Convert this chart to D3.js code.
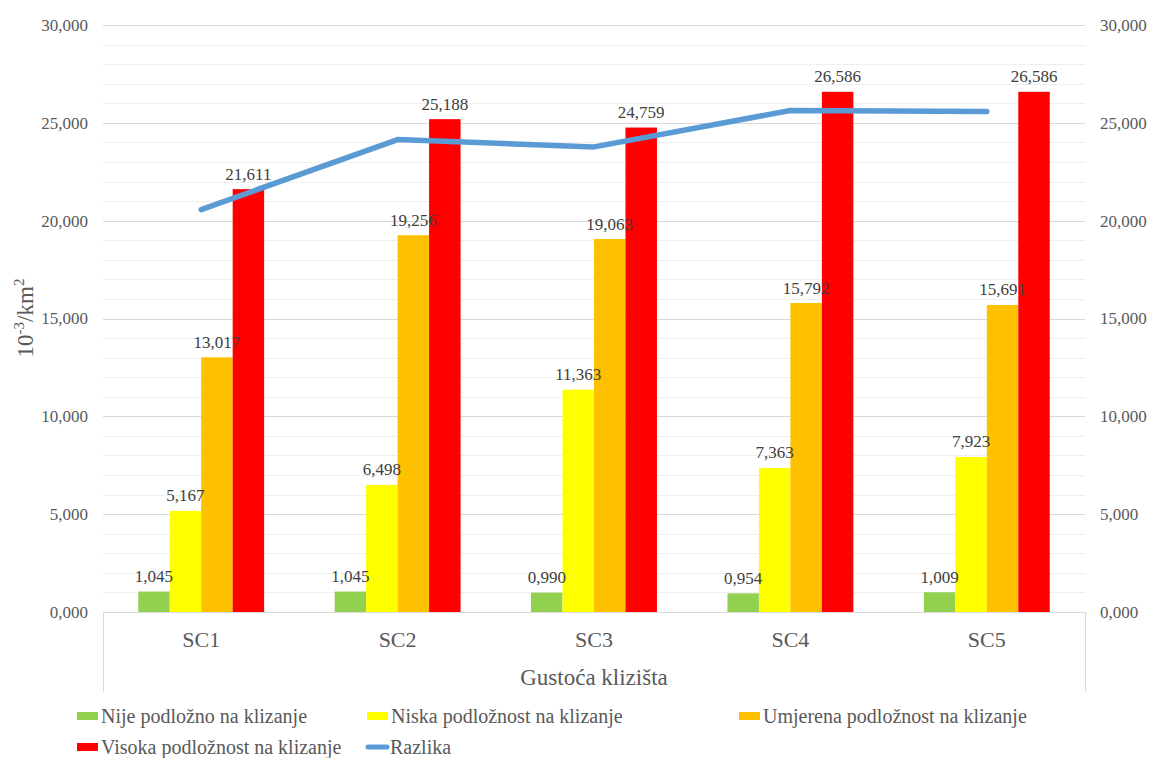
<!DOCTYPE html>
<html>
<head>
<meta charset="utf-8">
<script src="https://cdn.jsdelivr.net/npm/d3@7"></script>
<style>
  body { margin: 0; background: #fff; }
  svg { font-family: "Liberation Serif", "Times New Roman", serif; }
</style>
</head>
<body>
<svg id="chart" width="1151" height="758"></svg>
<script>
// data (values in 10^-3/km2)
var categories = ["SC1", "SC2", "SC3", "SC4", "SC5"];
var seriesNames = ["Nije podložno na klizanje", "Niska podložnost na klizanje", "Umjerena podložnost na klizanje", "Visoka podložnost na klizanje"];
var nije = [1.045, 1.045, 0.990, 0.954, 1.009];
var niska = [5.167, 6.498, 11.363, 7.363, 7.923];
var umjerena = [13.017, 19.256, 19.063, 15.792, 15.691];
var visoka = [21.611, 25.188, 24.759, 26.586, 26.586];
var razlika = [20.566, 24.143, 23.769, 25.632, 25.577];
var yTicks = [0, 5, 10, 15, 20, 25, 30];
var lineName = "Razlika";

var colors = ["#92D050", "#FFFF00", "#FFC000", "#FF0000"];
var lineColor = "#5B9BD5";
var seriesValues = [nije, niska, umjerena, visoka];

var svg = d3.select("#chart");
var width = 1151, height = 758;
var margin = { top: 25, right: 66, bottom: 146, left: 103 };
var plotBottom = height - margin.bottom;

var fmt = function (v) { return d3.format(".3f")(v).replace(".", ","); };

var x = d3.scaleBand()
    .domain(categories)
    .range([margin.left, width - margin.right]);
var xs = d3.scaleBand()
    .domain(d3.range(seriesNames.length))
    .range([0, x.bandwidth()])
    .paddingOuter(1.12);
var y = d3.scaleLinear()
    .domain([0, 30])
    .range([plotBottom, margin.top]);

// minor gridlines
svg.append("g")
    .selectAll("line")
    .data(d3.range(1, 30).filter(function (d) { return d % 5 !== 0; }))
    .join("line")
    .attr("x1", margin.left).attr("x2", width - margin.right)
    .attr("y1", function (d) { return Math.round(y(d)) + 0.5; })
    .attr("y2", function (d) { return Math.round(y(d)) + 0.5; })
    .attr("stroke", "#efefef");

// major gridlines
svg.append("g")
    .selectAll("line")
    .data(yTicks.slice(1))
    .join("line")
    .attr("x1", margin.left).attr("x2", width - margin.right)
    .attr("y1", function (d) { return Math.round(y(d)) + 0.5; })
    .attr("y2", function (d) { return Math.round(y(d)) + 0.5; })
    .attr("stroke", "#d9d9d9");

// y axes (left + right)
var yLeft = svg.append("g")
    .attr("transform", "translate(" + (margin.left - 15) + ",0)")
    .call(d3.axisLeft(y).tickValues(yTicks).tickSize(0).tickFormat(fmt));
var yRight = svg.append("g")
    .attr("transform", "translate(" + (width - margin.right + 15) + ",0)")
    .call(d3.axisRight(y).tickValues(yTicks).tickSize(0).tickFormat(fmt));
[yLeft, yRight].forEach(function (g) {
    g.attr("font-family", null);
    g.select(".domain").remove();
    g.selectAll("text")
        .attr("font-family", "Liberation Serif, serif")
        .attr("font-size", "17px")
        .attr("fill", "#595959")
        .attr("x", 0)
        .attr("dy", "0.32em");
});

// bars
seriesValues.forEach(function (vals, si) {
    svg.append("g")
        .attr("fill", colors[si])
        .selectAll("rect")
        .data(vals)
        .join("rect")
        .attr("x", function (d, i) { return x(categories[i]) + xs(si); })
        .attr("width", xs.bandwidth())
        .attr("y", function (d) { return y(d); })
        .attr("height", function (d) { return y(0) - y(d); });
});

// category axis with frame lines
var xAxis = svg.append("g")
    .attr("transform", "translate(0," + plotBottom + ")");
xAxis.append("line")
    .attr("x1", margin.left).attr("x2", width - margin.right)
    .attr("y1", 0.5).attr("y2", 0.5)
    .attr("stroke", "#d9d9d9");
[margin.left, width - margin.right].forEach(function (px) {
    xAxis.append("line")
        .attr("x1", px + 0.5).attr("x2", px + 0.5)
        .attr("y1", 0).attr("y2", 80)
        .attr("stroke", "#d9d9d9");
});
xAxis.selectAll("text.cat")
    .data(categories)
    .join("text")
    .attr("class", "cat")
    .attr("x", function (d) { return x(d) + x.bandwidth() / 2; })
    .attr("y", 35)
    .attr("text-anchor", "middle")
    .attr("font-size", "22px")
    .attr("fill", "#595959")
    .text(function (d) { return d; });

// difference line
var line = d3.line()
    .x(function (d, i) { return x(categories[i]) + x.bandwidth() / 2; })
    .y(function (d) { return y(d); });
svg.append("path")
    .datum(razlika)
    .attr("d", line)
    .attr("fill", "none")
    .attr("stroke", lineColor)
    .attr("stroke-width", 5.5)
    .attr("stroke-linecap", "round")
    .attr("stroke-linejoin", "round");

// data labels
seriesValues.forEach(function (vals, si) {
    svg.append("g")
        .selectAll("text")
        .data(vals)
        .join("text")
        .attr("x", function (d, i) { return x(categories[i]) + xs(si) + xs.bandwidth() / 2; })
        .attr("y", function (d) { return y(d) - 9.5; })
        .attr("text-anchor", "middle")
        .attr("font-size", "17px")
        .attr("fill", "#404040")
        .text(fmt);
});

// axis titles
svg.append("text")
    .attr("x", (margin.left + width - margin.right) / 2)
    .attr("y", 685)
    .attr("text-anchor", "middle")
    .attr("font-size", "23px")
    .attr("fill", "#595959")
    .text("Gustoća klizišta");

var yTitle = svg.append("text")
    .attr("transform", "translate(33,318) rotate(-90)")
    .attr("text-anchor", "middle")
    .attr("font-size", "23px")
    .attr("fill", "#595959");
yTitle.append("tspan").text("10");
yTitle.append("tspan").attr("font-size", "15px").attr("dy", "-9").text("-3");
yTitle.append("tspan").attr("dy", "9").text("/km");
yTitle.append("tspan").attr("font-size", "15px").attr("dy", "-9").text("2");

// legend
var legendItems = [
    { name: seriesNames[0], color: colors[0], x: 77, y: 716, type: "rect" },
    { name: seriesNames[1], color: colors[1], x: 367, y: 716, type: "rect" },
    { name: seriesNames[2], color: colors[2], x: 739, y: 716, type: "rect" },
    { name: seriesNames[3], color: colors[3], x: 77, y: 747, type: "rect" },
    { name: lineName, color: lineColor, x: 366, y: 747, type: "line" }
];
var legend = svg.append("g")
    .selectAll("g")
    .data(legendItems)
    .join("g")
    .attr("transform", function (d) { return "translate(" + d.x + "," + d.y + ")"; });
legend.filter(function (d) { return d.type === "rect"; })
    .append("rect")
    .attr("x", 0).attr("y", -4)
    .attr("width", 21).attr("height", 8)
    .attr("fill", function (d) { return d.color; });
legend.filter(function (d) { return d.type === "line"; })
    .append("line")
    .attr("x1", 2).attr("x2", 21)
    .attr("y1", 0).attr("y2", 0)
    .attr("stroke", function (d) { return d.color; })
    .attr("stroke-width", 5)
    .attr("stroke-linecap", "round");
legend.append("text")
    .attr("x", 24)
    .attr("y", 7)
    .attr("font-size", "20px")
    .attr("fill", "#595959")
    .text(function (d) { return d.name; });
</script>
</body>
</html>
